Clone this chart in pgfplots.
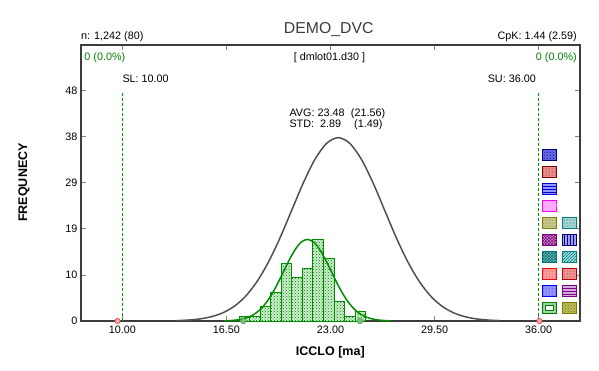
\documentclass[border=0pt]{standalone}
\usepackage{pgfplots}
\pgfplotsset{compat=1.18}
\usepackage{fontspec}
\setmainfont{Liberation Sans}
\usetikzlibrary{patterns}
\definecolor{dvgreen}{RGB}{0,140,0}
\definecolor{barfill}{RGB}{205,240,205}
\definecolor{dotgreen}{RGB}{0,120,0}
\definecolor{curvegray}{RGB}{80,80,80}
\definecolor{limgreen}{RGB}{0,150,0}
\definecolor{txtgreen}{RGB}{0,128,0}
\definecolor{axisgray}{RGB}{60,60,60}
\newcommand{\sfnt}{\fontsize{10.8}{12}\selectfont}
\newcommand{\swatch}[6]{%
  \draw[draw=#3, line width=1pt, fill=#4, postaction={pattern=#5, pattern color=#6}]
  (#1,#2) rectangle ++(14.7pt,-11.4pt);}
\begin{document}
\begin{tikzpicture}
\begin{axis}[
  at={(0,0)}, anchor=south west,
  scale only axis, width=499pt, height=276pt,
  xmin=7.42, xmax=38.58, ymin=0, ymax=57.5,
  xtick={10,16.5,23,29.5,36},
  xticklabels={10.00,16.50,23.00,29.50,36.00},
  ytick={0,9.6,19.2,28.8,38.4,48},
  yticklabels={0,10,19,29,38,48},
  tick align=inside, major tick length=5pt,
  tick style={color=gray, line width=0.8pt},
  axis line style={color=axisgray, line width=1.2pt},
  ticklabel style={font=\sfnt},
  xticklabel style={yshift=-1.5pt},
  /pgf/number format/assume math mode=true,
  clip=false,
]
% normal curve (all data)
\addplot[curvegray, line width=1.5pt, smooth] coordinates {
(13.365,0.08) (14.09,0.19) (14.81,0.42) (15.53,0.87) (16.255,1.68) (16.98,3.04)
(17.70,5.17) (18.42,8.26) (19.145,12.40) (19.87,17.49) (20.59,23.17) (21.31,28.83)
(22.035,33.71) (22.76,37.02) (23.48,38.2) (24.20,37.02) (24.925,33.71) (25.65,28.83)
(26.37,23.17) (27.09,17.49) (27.815,12.40) (28.54,8.26) (29.26,5.17) (29.98,3.04)
(30.705,1.68) (31.43,0.87) (32.15,0.42) (32.87,0.19) (33.595,0.08)};
% histogram
\addplot[ybar interval, draw=dvgreen, line width=1pt, fill=barfill,
  postaction={pattern=crosshatch dots, pattern color=dotgreen}] coordinates {
(17.30,1) (17.96,1) (18.615,3) (19.27,6) (19.93,12) (20.59,9) (21.245,11)
(21.90,17) (22.56,13) (23.22,4) (23.875,1) (24.53,2) (25.19,2)};
% fitted curve (subgroup)
\addplot[dvgreen, line width=1.5pt, smooth] coordinates {
(16.345,0.037) (16.7175,0.087) (17.09,0.19) (17.4625,0.39) (17.835,0.75) (18.2075,1.35)
(18.58,2.30) (18.9525,3.68) (19.325,5.52) (19.6975,7.78) (20.07,10.31) (20.4425,12.83)
(20.815,15.00) (21.1875,16.48) (21.56,17.0) (21.9325,16.48) (22.305,15.00) (22.6775,12.83)
(23.05,10.31) (23.4225,7.78) (23.795,5.52) (24.1675,3.68) (24.54,2.30) (24.9125,1.35)
(25.285,0.75) (25.6575,0.39) (26.03,0.19) (26.4025,0.087) (26.775,0.037)};
% spec limits
\addplot[limgreen, densely dashed, line width=0.9pt] coordinates {(10,0) (10,47.7)};
\addplot[limgreen, densely dashed, line width=0.9pt] coordinates {(36,0) (36,47.7)};
% markers
\addplot[only marks, mark=*, mark size=2.6pt,
  mark options={draw={rgb,255:red,80;green,160;blue,80}, fill={rgb,255:red,130;green,190;blue,130}, line width=0.8pt}]
  coordinates {(17.55,0) (24.84,0)};
\addplot[only marks, mark=*, mark size=2.6pt,
  mark options={draw={rgb,255:red,240;green,80;blue,80}, fill={rgb,255:red,250;green,170;blue,170}, line width=0.8pt}]
  coordinates {(9.7,0) (36.05,0)};
\end{axis}
% texts
\node[anchor=base, text=axisgray, font=\fontsize{15.8}{18}\selectfont, inner sep=0pt] at (247.7pt,287pt) {DEMO\_DVC};
\node[anchor=base west, font=\sfnt, inner sep=0pt] at (0pt,281pt) {n: 1,242 (80)};
\node[anchor=base east, font=\sfnt, inner sep=0pt] at (496pt,281pt) {CpK: 1.44 (2.59)};
\node[anchor=base west, font=\sfnt, text=txtgreen, inner sep=0pt] at (3.3pt,260pt) {0 (0.0\%)};
\node[anchor=base east, font=\sfnt, text=txtgreen, inner sep=0pt] at (496pt,260pt) {0 (0.0\%)};
\node[anchor=base, font=\sfnt, inner sep=0pt] at (248.5pt,260pt) {[ dmlot01.d30 ]};
\node[anchor=base west, font=\sfnt, inner sep=0pt] at (41.3pt,238.3pt) {SL: 10.00};
\node[anchor=base east, font=\sfnt, inner sep=0pt] at (455pt,238.3pt) {SU: 36.00};
\node[anchor=base west, font=\sfnt, inner sep=0pt] at (208.3pt,204.3pt) {AVG:};
\node[anchor=base west, font=\sfnt, inner sep=0pt] at (236.3pt,204.3pt) {23.48};
\node[anchor=base west, font=\sfnt, inner sep=0pt] at (269.7pt,204.3pt) {(21.56)};
\node[anchor=base west, font=\sfnt, inner sep=0pt] at (208.3pt,193.3pt) {STD:};
\node[anchor=base west, font=\sfnt, inner sep=0pt] at (239pt,193.3pt) {2.89};
\node[anchor=base west, font=\sfnt, inner sep=0pt] at (273pt,193.3pt) {(1.49)};
\node[anchor=base, font=\fontsize{12.5}{14}\selectfont\bfseries, inner sep=0pt] at (249.3pt,-34pt) {ICCLO [ma]};
\node[anchor=center, rotate=90, font=\fontsize{12.5}{14}\selectfont\bfseries, inner sep=0pt] at (-57pt,138.5pt) {FREQUNECY};
% pattern swatches
\swatch{461pt}{171.7pt}{{rgb,255:red,0;green,0;blue,128}}{{rgb,255:red,110;green,110;blue,230}}{crosshatch dots}{{rgb,255:red,0;green,0;blue,140}}
\swatch{461pt}{154.7pt}{{rgb,255:red,128;green,0;blue,0}}{{rgb,255:red,235;green,140;blue,140}}{dots}{{rgb,255:red,128;green,0;blue,0}}
\swatch{461pt}{137.7pt}{{rgb,255:red,0;green,0;blue,255}}{{rgb,255:red,150;green,150;blue,255}}{horizontal lines}{{rgb,255:red,0;green,0;blue,200}}
\swatch{461pt}{120.7pt}{{rgb,255:red,255;green,0;blue,255}}{{rgb,255:red,255;green,170;blue,255}}{fivepointed stars}{{rgb,255:red,255;green,170;blue,255}}
\swatch{461pt}{103.7pt}{{rgb,255:red,128;green,128;blue,0}}{{rgb,255:red,200;green,200;blue,140}}{dots}{{rgb,255:red,110;green,110;blue,0}}
\swatch{481pt}{103.7pt}{{rgb,255:red,0;green,128;blue,128}}{{rgb,255:red,165;green,210;blue,210}}{dots}{{rgb,255:red,0;green,100;blue,100}}
\swatch{461pt}{86.7pt}{{rgb,255:red,128;green,0;blue,128}}{{rgb,255:red,200;green,150;blue,200}}{crosshatch}{{rgb,255:red,128;green,0;blue,128}}
\swatch{481pt}{86.7pt}{{rgb,255:red,0;green,0;blue,128}}{{rgb,255:red,160;green,160;blue,240}}{vertical lines}{{rgb,255:red,0;green,0;blue,140}}
\swatch{461pt}{69.7pt}{{rgb,255:red,0;green,128;blue,128}}{{rgb,255:red,120;green,190;blue,190}}{crosshatch}{{rgb,255:red,0;green,110;blue,110}}
\swatch{481pt}{69.7pt}{{rgb,255:red,0;green,128;blue,128}}{{rgb,255:red,160;green,220;blue,220}}{north east lines}{{rgb,255:red,0;green,128;blue,128}}
\swatch{461pt}{52.7pt}{{rgb,255:red,255;green,0;blue,0}}{{rgb,255:red,255;green,160;blue,160}}{dots}{{rgb,255:red,220;green,0;blue,0}}
\swatch{481pt}{52.7pt}{{rgb,255:red,180;green,0;blue,0}}{{rgb,255:red,240;green,150;blue,150}}{dots}{{rgb,255:red,150;green,0;blue,0}}
\swatch{461pt}{35.7pt}{{rgb,255:red,0;green,0;blue,255}}{{rgb,255:red,150;green,150;blue,255}}{dots}{{rgb,255:red,0;green,0;blue,200}}
\swatch{481pt}{35.7pt}{{rgb,255:red,128;green,0;blue,128}}{{rgb,255:red,210;green,170;blue,220}}{horizontal lines}{{rgb,255:red,128;green,0;blue,128}}
\swatch{461pt}{18.7pt}{{rgb,255:red,0;green,128;blue,0}}{{rgb,255:red,170;green,220;blue,170}}{dots}{{rgb,255:red,0;green,110;blue,0}}
\draw[draw={rgb,255:red,0;green,128;blue,0}, line width=0.8pt, fill=white] (464.5pt,15.2pt) rectangle (472.2pt,10.8pt);
\swatch{481pt}{18.7pt}{{rgb,255:red,128;green,128;blue,0}}{{rgb,255:red,190;green,190;blue,90}}{crosshatch dots}{{rgb,255:red,110;green,110;blue,0}}
\pgfresetboundingbox
\useasboundingbox (-81pt,-49pt) rectangle (518pt,321pt);
\end{tikzpicture}
\end{document}
